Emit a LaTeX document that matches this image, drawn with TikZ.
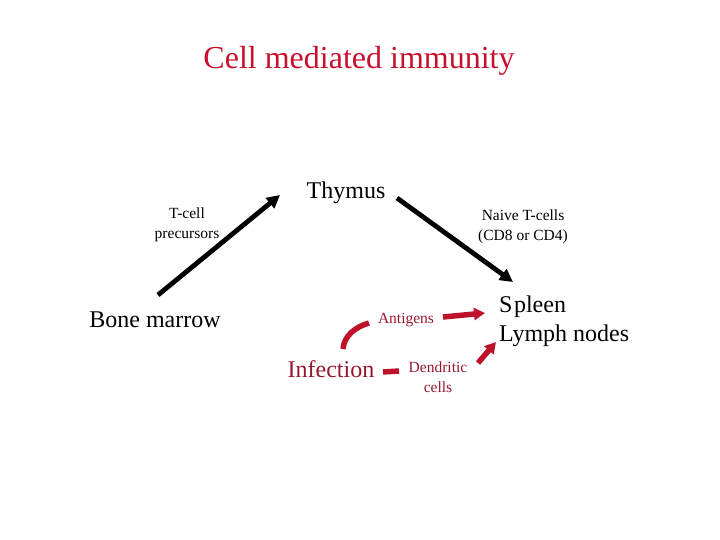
\documentclass[tikz,border=0pt]{standalone}
\usepackage{fontspec}
\setmainfont{Liberation Serif}
\usetikzlibrary{arrows.meta}
\definecolor{titlered}{RGB}{200,16,46}
\definecolor{darkred}{RGB}{150,24,48}
\definecolor{arrowred}{RGB}{190,18,42}
\tikzset{
  big/.style={font=\fontsize{24}{29}\selectfont, inner sep=0pt},
  small/.style={font=\fontsize{15.5}{19.5}\selectfont, inner sep=0pt, align=center},
  blackarrow/.style={line width=4.8pt, -{Triangle[length=13pt,width=13pt]}},
  redline/.style={line width=5.5pt, arrowred},
  redarrow/.style={redline, -{Triangle[length=11pt,width=12pt]}},
}
\begin{document}
\begin{tikzpicture}[x=1pt,y=-1pt]
\useasboundingbox (0,0) rectangle (720,540);
\node[font=\fontsize{32}{36}\selectfont, text=titlered, inner sep=0pt] (title) at (359,61) {Cell mediated immunity};
\node[big] (thymus) at (346,193) {Thymus};
\node[big] (bone) at (155,320) {Bone marrow};
\node[big, anchor=west, align=left] (spleen) at (499,321) {S\kern1.5pt pleen\\Lymph nodes};
\node[big, text=darkred] (infection) at (331,369) {Infection};
\node[small] (tcell) at (187,225) {T-cell\\precursors};
\node[small] (naive) at (523,227) {Naive T-cells\\(CD8 or CD4)};
\node[small, text=darkred] (antigens) at (406,320) {Antigens};
\node[small, text=darkred] (dendritic) at (438,377) {Dendritic\\cells};

\coordinate (b1) at (158,295);
\coordinate (b2) at (280,195);
\coordinate (t1) at (397,198);
\coordinate (t2) at (513,282);
\coordinate (a1) at (443,317);
\coordinate (a2) at (485,313);
\coordinate (c1) at (343,349);
\coordinate (c2) at (369,323);
\coordinate (d1) at (383,372);
\coordinate (d2) at (399,371);
\coordinate (l1) at (478,363);
\coordinate (l2) at (496,342);

\draw[blackarrow] (b1) -- (b2);
\draw[blackarrow] (t1) -- (t2);
\draw[redarrow] (a1) -- (a2);
\draw[redline] (c1) .. controls (344,336) and (355,327) .. (c2);
\draw[redline] (d1) -- (d2);
\draw[redarrow] (l1) -- (l2);
\end{tikzpicture}
\end{document}
